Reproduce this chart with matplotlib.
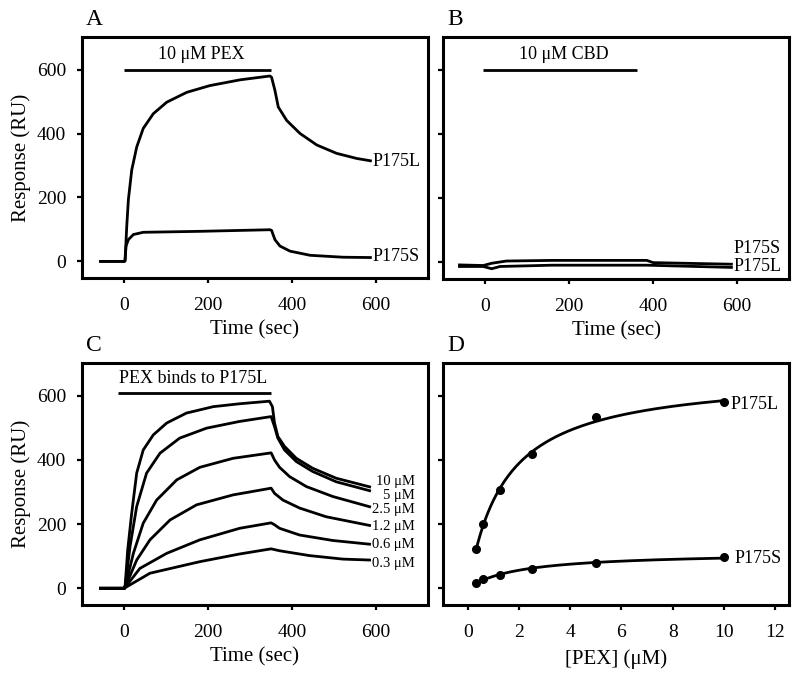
import numpy as np
import matplotlib
matplotlib.use("Agg")
import matplotlib.pyplot as plt

plt.rcParams['font.family'] = ['Liberation Serif', 'DejaVu Serif']

# ---- data ----
# panel A: 10 uM PEX
a_t_L = [-60, 0, 1.7, 5.7, 9.6, 17.6, 29.5, 45, 69, 101, 149, 204, 276, 347,
         351, 359, 367, 387, 419, 459, 506, 554, 590]
a_v_L = [0, 0, 1, 110, 193, 286, 358, 416, 462, 498, 529, 550, 568, 580,
         576, 535, 483, 441, 400, 364, 338, 322, 314]
a_t_S = [-60, 0, 1.7, 4, 9.6, 21.5, 45, 180, 347, 351, 359, 371, 395, 443,
         522, 590]
a_v_S = [0, 0, 5, 48, 68, 84, 91, 94, 99, 97, 68, 48, 32, 19, 13, 12]

# panel B: 10 uM CBD
b_t_S = [-65, -5, 15, 50, 160, 385, 400, 590]
b_v_S = [-8, -10, -3, 4, 6, 6, -1, -6]
b_t_L = [-65, -5, 15, 35, 160, 385, 415, 590]
b_v_L = [-13, -13, -20, -13, -9, -9, -10, -16]

# panel C: PEX concentration series on P175L
c_labels = ['10 μM', '5 μM', '2.5 μM', '1.2 μM', '0.6 μM', '0.3 μM']
c_t = [
    [-60, 0, 2, 8, 17.5, 29.4, 45, 69, 101, 148, 212, 275, 346,
     353, 358, 366, 382, 410, 449, 505, 588],
    [-60, 0, 2, 13.5, 29.4, 53, 85, 132, 196, 275, 350,
     358, 366, 382, 410, 449, 505, 588],
    [-60, 0, 2, 21.5, 45, 77, 125, 180, 259, 350,
     358, 370, 394, 434, 497, 588],
    [-60, 0, 2, 29.4, 61, 109, 172, 259, 350,
     358, 378, 418, 481, 588],
    [-60, 0, 2, 37, 101, 180, 275, 350,
     358, 370, 418, 497, 588],
    [-60, 0, 2, 61, 180, 275, 350,
     370, 441, 521, 588],
]
c_v = [
    [0, 0, 10, 120, 234, 359, 431, 478, 515, 546, 566, 575, 583,
     566, 515, 473, 442, 405, 374, 343, 315],
    [0, 0, 8, 130, 255, 359, 421, 468, 499, 520, 535,
     504, 468, 431, 395, 364, 332, 303],
    [0, 0, 5, 109, 203, 275, 338, 377, 405, 422,
     400, 377, 348, 317, 286, 253],
    [0, 0, 4, 88, 151, 213, 260, 291, 312,
     296, 275, 250, 223, 195],
    [0, 0, 3, 62, 109, 151, 187, 204,
     198, 187, 166, 149, 137],
    [0, 0, 2, 47, 83, 107, 123,
     117, 102, 91, 88],
]
c_label_y = [332, 289, 246, 192, 138, 78]

# panel D: response vs [PEX]
d_conc = [0.3, 0.6, 1.25, 2.5, 5, 10]
d_L = [122, 201, 307, 417, 534, 579]
d_S = [18, 29, 43, 59, 80, 96]


def one_site_fit(x, y):
    x = np.asarray(x, float)
    y = np.asarray(y, float)
    best = None
    for kd in np.arange(0.05, 10, 0.005):
        f = x / (kd + x)
        bmax = (y * f).sum() / (f * f).sum()
        sse = ((y - bmax * f) ** 2).sum()
        if best is None or sse < best[0]:
            best = (sse, kd, bmax)
    return best[1], best[2]


fig = plt.figure(figsize=(7.95, 6.78), dpi=100)
W, H = 795, 678


def make_ax(l, t, r, b):
    return fig.add_axes([l / W, 1 - b / H, (r - l) / W, (b - t) / H])


axA = make_ax(82, 37, 428, 278)
axB = make_ax(443, 37, 789, 279)
axC = make_ax(82, 363, 428, 605)
axD = make_ax(443, 363, 789, 605)

LW = 2.0
line_kw = dict(color='black', lw=LW, solid_joinstyle='round', solid_capstyle='butt')
for ax in (axA, axB, axC, axD):
    for s in ax.spines.values():
        s.set_linewidth(2.2)
    ax.tick_params(direction='out', length=3.5, width=1.6, labelsize=14)
    ax.tick_params(axis='x', pad=10)
    ax.tick_params(axis='y', pad=8)
    ax.set_ylim(-52, 702)
    ax.set_yticks([0, 200, 400, 600])

for ax in (axA, axB, axC):
    ax.set_xlim(-101, 724)
    ax.set_xticks([0, 200, 400, 600])
    ax.set_xlabel('Time (sec)', fontsize=15, labelpad=5)

for ax in (axA, axC):
    ax.set_ylabel('Response (RU)', fontsize=15, labelpad=4)
axB.set_yticklabels([])
axD.set_yticklabels([])

# A
axA.plot(a_t_L, a_v_L, **line_kw)
axA.plot(a_t_S, a_v_S, **line_kw)
axA.plot([0, 350], [600, 600], **line_kw)
axA.text(184, 620, '10 μM PEX', ha='center', va='bottom', fontsize=13)
axA.text(592, 312, 'P175L', ha='left', va='center', fontsize=13)
axA.text(592, 16, 'P175S', ha='left', va='center', fontsize=13)

# B
axB.plot(b_t_S, b_v_S, **line_kw)
axB.plot(b_t_L, b_v_L, **line_kw)
axB.plot([-5, 361], [598, 598], **line_kw)
axB.text(186, 620, '10 μM CBD', ha='center', va='bottom', fontsize=13)
axB.text(591, 44, 'P175S', ha='left', va='center', fontsize=13)
axB.text(591, -13, 'P175L', ha='left', va='center', fontsize=13)

# C
for t, v in zip(c_t, c_v):
    axC.plot(t, v, **line_kw)
for lab, y in zip(c_labels, c_label_y):
    axC.text(693, y, lab, ha='right', va='center', fontsize=10.5)
axC.plot([-14, 350], [610, 610], **line_kw)
axC.text(-13, 628, 'PEX binds to P175L', ha='left', va='bottom', fontsize=13)

# D
axD.set_xlim(-0.98, 12.55)
axD.set_xticks(range(0, 13, 2))
axD.set_xlabel('[PEX] (μM)', fontsize=15, labelpad=6)
xs = np.linspace(min(d_conc), max(d_conc), 200)
for vals in (d_L, d_S):
    kd, bmax = one_site_fit(d_conc, vals)
    axD.plot(xs, bmax * xs / (kd + xs), **line_kw)
    axD.plot(d_conc, vals, 'o', color='black', ms=5.5)
axD.text(10.25, 573, 'P175L', ha='left', va='center', fontsize=13)
axD.text(10.4, 94, 'P175S', ha='left', va='center', fontsize=13)

# panel letters
for ax, letter in ((axA, 'A'), (axB, 'B'), (axC, 'C'), (axD, 'D')):
    ax.text(0.012, 1.03, letter, transform=ax.transAxes, ha='left',
            va='bottom', fontsize=17)

fig.savefig('out.png', dpi=100)
